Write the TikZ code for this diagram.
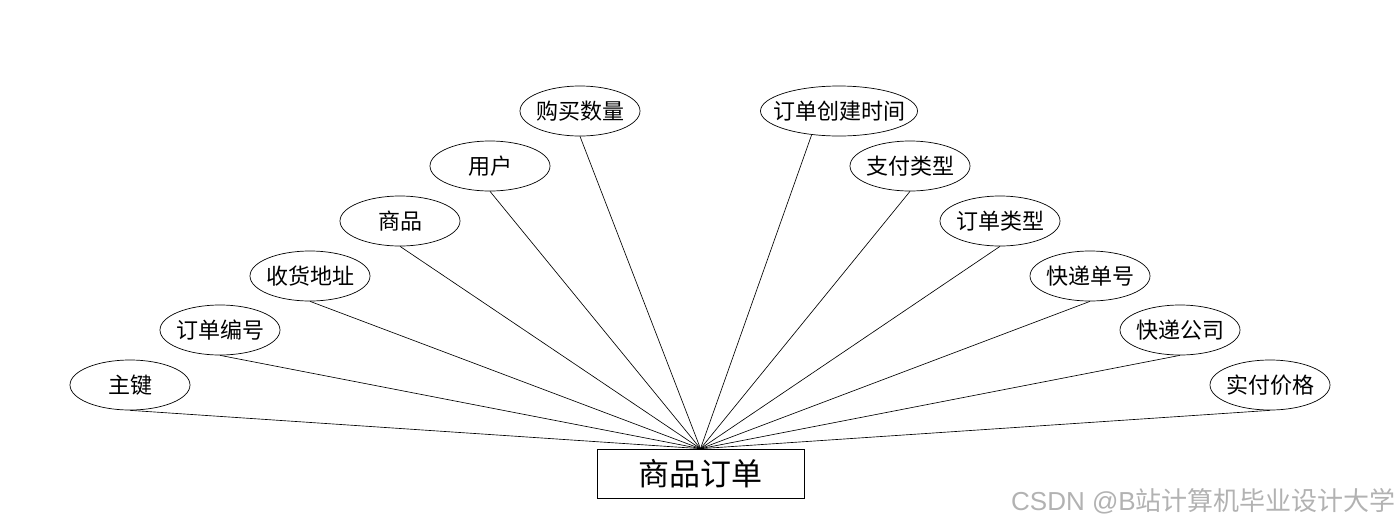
\documentclass[tikz,border=0pt]{standalone}
\usepackage{fontspec}
\setmainfont{Noto Sans CJK SC}
\newfontfamily\latinsans{Liberation Sans}
\usetikzlibrary{shapes.geometric}
\newcommand{\zw}[1]{\makebox[0pt]{#1}}
\begin{document}
\begin{tikzpicture}[x=1pt,y=-1pt,
  attr/.style={draw,ellipse,line width=0.7pt,minimum width=120pt,minimum height=50pt,inner sep=0pt,font=\fontsize{22}{22}\selectfont},
  ent/.style={draw,rectangle,line width=0.7pt,minimum width=207pt,minimum height=49pt,inner sep=0pt,font=\fontsize{31}{31}\selectfont},
  link/.style={line width=0.65pt}]
\useasboundingbox (0,0) rectangle (1400,528);
\node[ent] (E) at (700.5,473.5) {商品订单};
\node[attr] (a1) at (130,385) {\zw{主键}};
\node[attr] (a2) at (220,330) {\zw{订单编号}};
\node[attr] (a3) at (310,276) {\zw{收货地址}};
\node[attr] (a4) at (400,221) {\zw{商品}};
\node[attr] (a5) at (490,166) {\zw{用户}};
\node[attr] (a6) at (580,111) {\zw{购买数量}};
\node[attr,minimum width=157pt] (b1) at (839,111) {\zw{订单创建时间}};
\node[attr] (b2) at (910,166) {\zw{支付类型}};
\node[attr] (b3) at (1000,221) {\zw{订单类型}};
\node[attr] (b4) at (1090,276) {\zw{快递单号}};
\node[attr] (b5) at (1180,330) {\zw{快递公司}};
\node[attr] (b6) at (1270,385) {\zw{实付价格}};
\foreach \n in {a1,a2,a3,a4,a5,a6,b2,b3,b4,b5,b6}
  \draw[link] (\n.south) -- (E.north);
\draw[link] (b1.221) -- (E.north);
\node[text=black!30,font=\fontsize{26}{26}\selectfont,anchor=east,inner sep=0pt] (wm) at (1396,501) {{\latinsans CSDN @B}站计算机毕业设计大学};
\end{tikzpicture}
\end{document}
